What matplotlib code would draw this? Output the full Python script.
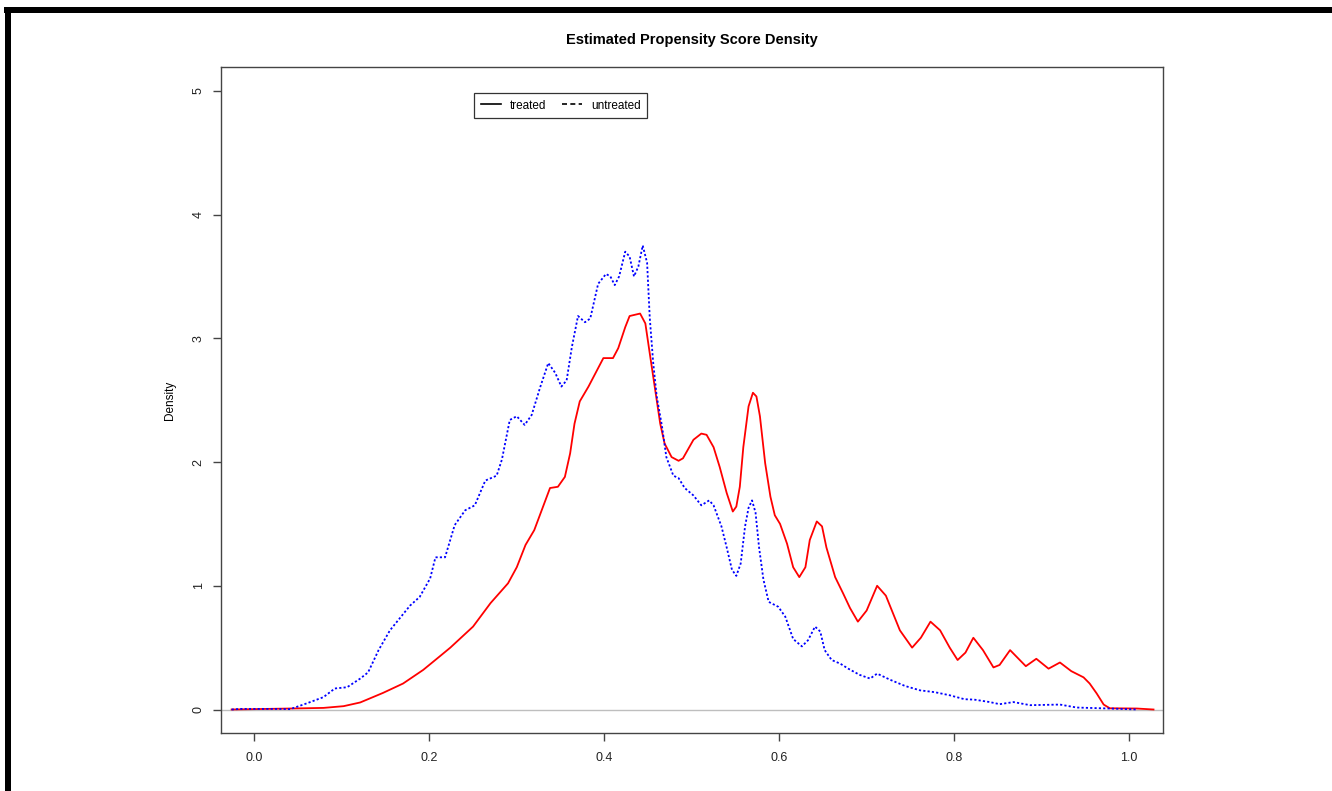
import matplotlib
matplotlib.use("Agg")
import matplotlib.pyplot as plt
from matplotlib.lines import Line2D
from matplotlib.patches import Rectangle

plt.rcParams['font.family'] = ['Liberation Sans', 'DejaVu Sans']

# treated propensity score density
treated_x = [-0.026, 0.041, 0.079, 0.102, 0.121, 0.147, 0.170, 0.193, 0.212, 0.224,
             0.25, 0.27, 0.29, 0.30, 0.31, 0.32, 0.338, 0.347, 0.355, 0.361, 0.366,
             0.372, 0.382, 0.399, 0.410, 0.416, 0.424, 0.429, 0.441, 0.447, 0.452,
             0.456, 0.464, 0.469, 0.477, 0.485, 0.490, 0.502, 0.511, 0.517, 0.525,
             0.532, 0.540, 0.547, 0.551, 0.555, 0.559, 0.565, 0.570, 0.574, 0.578,
             0.584, 0.590, 0.595, 0.601, 0.609, 0.616, 0.623, 0.630, 0.635, 0.643,
             0.649, 0.654, 0.664, 0.673, 0.681, 0.690, 0.700, 0.712, 0.722, 0.738,
             0.752, 0.762, 0.773, 0.784, 0.795, 0.804, 0.813, 0.822, 0.833, 0.845,
             0.852, 0.864, 0.882, 0.894, 0.908, 0.921, 0.934, 0.948, 0.955, 0.963,
             0.971, 0.978, 1.009, 1.028]
treated_y = [0.0, 0.008, 0.013, 0.027, 0.057, 0.134, 0.21, 0.32, 0.43, 0.50,
             0.67, 0.86, 1.02, 1.15, 1.33, 1.45, 1.79, 1.80, 1.88, 2.07, 2.31,
             2.49, 2.61, 2.84, 2.84, 2.92, 3.09, 3.18, 3.20, 3.12, 2.88,
             2.69, 2.31, 2.15, 2.04, 2.01, 2.03, 2.18, 2.23, 2.22, 2.12,
             1.96, 1.75, 1.60, 1.64, 1.80, 2.12, 2.45, 2.56, 2.53, 2.37,
             1.99, 1.72, 1.57, 1.50, 1.34, 1.15, 1.07, 1.15, 1.37, 1.52,
             1.48, 1.31, 1.07, 0.94, 0.82, 0.71, 0.80, 1.00, 0.92, 0.64,
             0.50, 0.58, 0.71, 0.64, 0.50, 0.40, 0.46, 0.58, 0.48, 0.34,
             0.36, 0.48, 0.35, 0.41, 0.33, 0.38, 0.31, 0.26, 0.21, 0.13,
             0.04, 0.01, 0.008, 0.0]

# untreated propensity score density
untreated_x = [-0.026, -0.016, 0.022, 0.041, 0.060, 0.079, 0.092, 0.106, 0.121, 0.130,
               0.142, 0.155, 0.178, 0.189, 0.201, 0.207, 0.218, 0.229, 0.241, 0.252,
               0.264, 0.277, 0.283, 0.292, 0.300, 0.309, 0.317, 0.327, 0.336, 0.344,
               0.351, 0.357, 0.363, 0.370, 0.378, 0.384, 0.393, 0.402, 0.407, 0.412,
               0.417, 0.424, 0.429, 0.434, 0.439, 0.444, 0.449, 0.452, 0.456, 0.460,
               0.466, 0.471, 0.479, 0.485, 0.492, 0.502, 0.511, 0.520, 0.525, 0.534,
               0.540, 0.546, 0.551, 0.556, 0.561, 0.565, 0.569, 0.573, 0.577, 0.582,
               0.588, 0.599, 0.607, 0.616, 0.626, 0.633, 0.641, 0.647, 0.652, 0.660,
               0.670, 0.679, 0.692, 0.704, 0.712, 0.727, 0.744, 0.761, 0.778, 0.795,
               0.812, 0.823, 0.841, 0.852, 0.868, 0.887, 0.921, 0.940, 0.978, 1.010]
untreated_y = [0.0, 0.005, 0.005, 0.003, 0.05, 0.10, 0.17, 0.18, 0.25, 0.30,
               0.48, 0.64, 0.84, 0.91, 1.06, 1.23, 1.23, 1.49, 1.61, 1.65,
               1.85, 1.89, 2.02, 2.34, 2.37, 2.30, 2.38, 2.61, 2.80, 2.72,
               2.61, 2.66, 2.93, 3.18, 3.13, 3.16, 3.44, 3.52, 3.50, 3.43,
               3.50, 3.70, 3.66, 3.50, 3.58, 3.75, 3.61, 3.17, 2.80, 2.53,
               2.29, 2.04, 1.89, 1.87, 1.79, 1.73, 1.65, 1.69, 1.65, 1.48,
               1.31, 1.13, 1.08, 1.18, 1.48, 1.63, 1.69, 1.59, 1.31, 1.05,
               0.87, 0.83, 0.75, 0.57, 0.51, 0.56, 0.67, 0.63, 0.48, 0.40,
               0.37, 0.33, 0.28, 0.25, 0.29, 0.24, 0.19, 0.155, 0.14, 0.115,
               0.083, 0.08, 0.06, 0.043, 0.06, 0.035, 0.04, 0.016, 0.008, 0.0]

x_ticks = [0.0, 0.2, 0.4, 0.6, 0.8, 1.0]
y_ticks = [0, 1, 2, 3, 4, 5]

fig = plt.figure(figsize=(13.32, 7.91), dpi=100)
ax = fig.add_axes([0.1657, 0.0733, 0.7072, 0.8416])

ax.axhline(0, color='#bebebe', lw=1)
ax.plot(treated_x, treated_y, color='red', lw=1.3)
ax.plot(untreated_x, untreated_y, color='blue', lw=1.3, linestyle=(0, (1.2, 1.2)))

ax.set_xlim(-0.0385, 1.0385)
ax.set_ylim(-0.19, 5.19)
ax.set_xticks(x_ticks)
ax.set_xticklabels([f"{v:.1f}" for v in x_ticks])
ax.set_yticks(y_ticks)
ax.set_yticklabels([str(v) for v in y_ticks])
ax.tick_params(axis='both', direction='out', length=5.5, width=1, color='#444444',
               labelsize=9, labelcolor='#222222')
ax.tick_params(axis='x', pad=8)
ax.tick_params(axis='y', pad=6, labelrotation=90)
for lab in ax.get_yticklabels():
    lab.set_va('center')
for s in ax.spines.values():
    s.set_color('#444444')
    s.set_linewidth(1)

handles = [Line2D([], [], color='black', lw=1.2),
           Line2D([], [], color='black', lw=1.2, linestyle=(0, (3, 2)))]
leg = ax.legend(handles, ['treated', 'untreated'], ncol=2, loc='upper left',
                bbox_to_anchor=(0.269, 0.9614), fontsize=8.5, frameon=True,
                fancybox=False, edgecolor='black', handlelength=1.7,
                columnspacing=1.4, borderpad=0.55, handletextpad=0.75,
                borderaxespad=0)
leg.get_frame().set_linewidth(0.9)

fig.text(0.5193, 0.950, 'Estimated Propensity Score Density', ha='center', va='center',
         fontsize=10.5, fontweight='bold')
fig.text(0.1276, 0.494, 'Density', ha='center', va='center', rotation=90, fontsize=8.5)

# black frame bars from the screenshot
fig.add_artist(Rectangle((0.003, 0.9836), 0.997, 0.0076, transform=fig.transFigure,
                         color='black', lw=0))
fig.add_artist(Rectangle((0.00375, 0.0), 0.0045, 0.9912, transform=fig.transFigure,
                         color='black', lw=0))

fig.savefig('out.png', dpi=100)
